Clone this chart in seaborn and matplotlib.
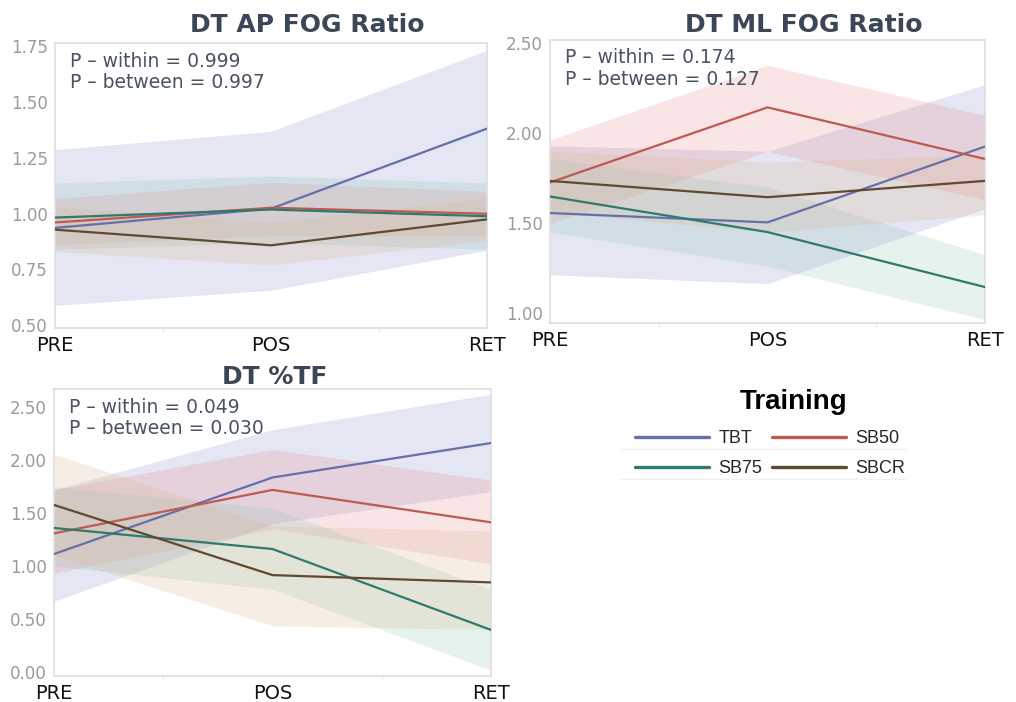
import numpy as np
import pandas as pd
import matplotlib
matplotlib.use("Agg")
import matplotlib.pyplot as plt
import seaborn as sns
from matplotlib.lines import Line2D

sns.set_theme(style="white")
plt.rcParams["font.family"] = ["DejaVu Sans"]

phases = ["PRE", "POS", "RET"]
groups = ["TBT", "SB50", "SB75", "SBCR"]
line_colors = {"TBT": "#6570a8", "SB50": "#bf5a52", "SB75": "#2f7a6c", "SBCR": "#5e4a30"}
band_colors = {"TBT": "#8a90cc", "SB50": "#e88a8a", "SB75": "#8fc5b5", "SBCR": "#d9b48a"}

# DT AP FOG Ratio
ap_mean = {"TBT": [0.936, 1.022, 1.38], "SB50": [0.96, 1.026, 0.999],
           "SB75": [0.982, 1.018, 0.988], "SBCR": [0.928, 0.858, 0.974]}
ap_low = {"TBT": [0.589, 0.657, 0.836], "SB50": [0.86, 0.90, 0.90],
          "SB75": [0.84, 0.87, 0.84], "SBCR": [0.83, 0.77, 0.88]}
ap_high = {"TBT": [1.286, 1.368, 1.73], "SB50": [1.067, 1.14, 1.10],
           "SB75": [1.137, 1.168, 1.137], "SBCR": [1.03, 0.96, 1.07]}

# DT ML FOG Ratio
ml_mean = {"TBT": [1.556, 1.504, 1.926], "SB50": [1.726, 2.144, 1.857],
           "SB75": [1.648, 1.45, 1.144], "SBCR": [1.735, 1.644, 1.735]}
ml_low = {"TBT": [1.213, 1.163, 1.58], "SB50": [1.50, 1.898, 1.63],
          "SB75": [1.45, 1.26, 0.963], "SBCR": [1.56, 1.45, 1.546]}
ml_high = {"TBT": [1.93, 1.90, 2.27], "SB50": [1.963, 2.378, 2.10],
           "SB75": [1.86, 1.70, 1.324], "SBCR": [1.90, 1.84, 1.88]}

# DT %TF
tf_mean = {"TBT": [1.113, 1.835, 2.16], "SB50": [1.308, 1.718, 1.412],
           "SB75": [1.359, 1.16, 0.397], "SBCR": [1.576, 0.914, 0.845]}
tf_low = {"TBT": [0.668, 1.40, 1.70], "SB50": [0.93, 1.35, 1.02],
          "SB75": [1.0, 0.78, 0.016], "SBCR": [1.10, 0.435, 0.40]}
tf_high = {"TBT": [1.72, 2.286, 2.62], "SB50": [1.72, 2.10, 1.81],
           "SB75": [1.75, 1.545, 0.78], "SBCR": [2.055, 1.38, 1.33]}

panels = [
    dict(title="DT AP FOG Ratio", mean=ap_mean, low=ap_low, high=ap_high,
         p_within="0.999", p_between="0.997", ylim=(0.488, 1.763),
         yticks=[0.50, 0.75, 1.00, 1.25, 1.50, 1.75],
         rect=[55, 43, 487, 328], title_x=0.583, title_gap=11),
    dict(title="DT ML FOG Ratio", mean=ml_mean, low=ml_low, high=ml_high,
         p_within="0.174", p_between="0.127", ylim=(0.944, 2.519),
         yticks=[1.00, 1.50, 2.00, 2.50],
         rect=[550, 40, 985, 323], title_x=0.584, title_gap=8),
    dict(title="DT %TF", mean=tf_mean, low=tf_low, high=tf_high,
         p_within="0.049", p_between="0.030", ylim=(-0.038, 2.67),
         yticks=[0.00, 0.50, 1.00, 1.50, 2.00, 2.50],
         rect=[54, 389, 491, 676], title_x=0.506, title_gap=5),
]

W, H = 1016, 702
fig = plt.figure(figsize=(W / 100, H / 100), dpi=100)
fig.patch.set_facecolor("white")

for p in panels:
    l, t, r, b = p["rect"]
    ax = fig.add_axes([l / W, 1 - b / H, (r - l) / W, (b - t) / H])
    rows = []
    for g in groups:
        for i, ph in enumerate(phases):
            rows.append({"Phase": i, "Value": p["mean"][g][i], "Training": g})
    df = pd.DataFrame(rows)
    for g in groups:
        ax.fill_between(range(len(phases)), p["low"][g], p["high"][g],
                        color=band_colors[g], alpha=0.22, linewidth=0, zorder=1)
    sns.lineplot(data=df, x="Phase", y="Value", hue="Training", hue_order=groups,
                 palette=line_colors, linewidth=1.6, legend=False, ax=ax, zorder=3)
    ax.set_xlim(0, 2)
    ax.set_ylim(*p["ylim"])
    ax.set_xticks([0, 1, 2])
    ax.set_xticklabels(phases, fontsize=14, color="#111111")
    ax.set_xticks([0.5, 1.5], minor=True)
    ax.set_yticks(p["yticks"])
    ax.set_yticklabels([f"{v:.2f}" for v in p["yticks"]], fontsize=12, color="#9a9a9a")
    ax.tick_params(axis="y", which="major", length=4, width=0.8, color="#cccccc", pad=1)
    ax.tick_params(axis="x", which="major", length=4, width=0.8, color="#dddddd", pad=2)
    ax.tick_params(axis="x", which="minor", length=3, width=0.8, color="#e5e5e5", bottom=True)
    ax.set_xlabel("")
    ax.set_ylabel("")
    for s in ax.spines.values():
        s.set_color("#dedede")
        s.set_linewidth(1.2)
    ax.text(p["title_x"], 1 + p["title_gap"] / (b - t), p["title"], transform=ax.transAxes,
            ha="center", va="baseline", fontsize=18, fontweight="bold", color="#3b4658")
    ax.text(0.035, 0.97, f"P – within = {p['p_within']}\nP – between = {p['p_between']}",
            transform=ax.transAxes, ha="left", va="top", fontsize=13.5,
            color="#4a5262", linespacing=1.15, zorder=5)

# legend: two columns, filled column-wise so rows read TBT/SB50 and SB75/SBCR
order = ["TBT", "SB75", "SB50", "SBCR"]
handles = [Line2D([0], [0], color=line_colors[g], linewidth=2.4) for g in order]
leg = fig.legend(handles, order, loc="center", bbox_to_anchor=(770 / W, 1 - 454 / H),
                 ncol=2, frameon=False, handlelength=4.1,
                 columnspacing=0.5, handletextpad=0.55, labelspacing=0.72,
                 prop={"family": "Liberation Sans", "size": 13})
fig.text(794 / W, 1 - 409 / H, "Training", ha="center", va="baseline",
         fontsize=20, fontweight="bold", family="Liberation Sans", color="black")
# faint row separators under the legend entries
for y in (449, 479):
    fig.add_artist(Line2D([620 / W, 905 / W], [1 - y / H, 1 - y / H],
                          transform=fig.transFigure, color="#f0f0f0", linewidth=1.0))

fig.savefig("out.png", dpi=100, facecolor="white")
